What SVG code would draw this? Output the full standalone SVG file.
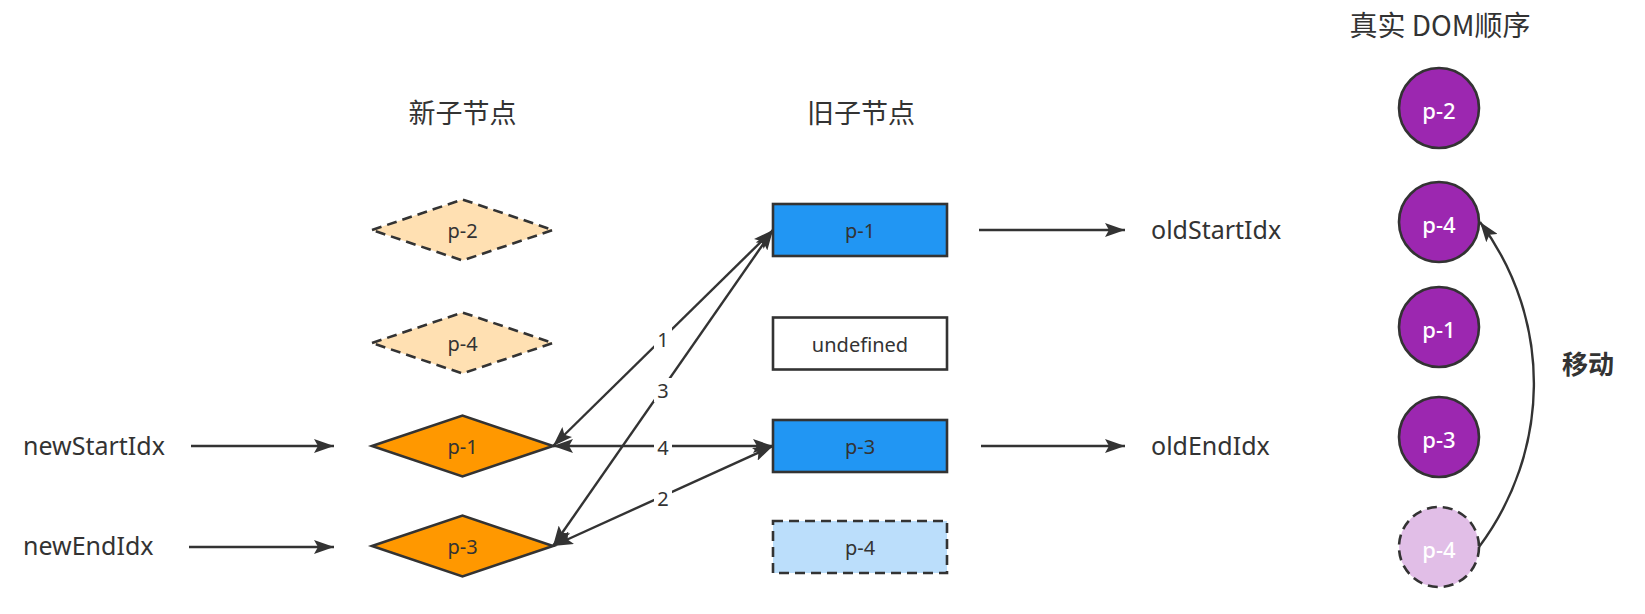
<svg xmlns="http://www.w3.org/2000/svg" width="1645" height="614" viewBox="0 0 1645 614">
<style>
text{font-family:"Noto Sans","Noto Sans CJK SC",sans-serif;fill:#333333}
.title{font-family:"Noto Sans CJK SC","Noto Sans",sans-serif;font-size:27px;text-anchor:middle}
.idx{font-size:25px}
.nl{font-size:20px;text-anchor:middle}
.cl{font-size:22px;text-anchor:middle;fill:#ffffff;font-weight:500}
.el{font-size:20px;text-anchor:middle}
.sh{stroke:#333333;stroke-width:2.6}
.dash{stroke-dasharray:10 6}
.edge{fill:none;stroke:#333333;stroke-width:2.4}
</style>
<defs>
<marker id="arr" viewBox="0 0 20 14" refX="20" refY="7" markerWidth="20" markerHeight="14" markerUnits="userSpaceOnUse" orient="auto-start-reverse">
<path d="M0,0 L20,7 L0,14 L4,7 z" fill="#333333"/>
</marker>
</defs>
<rect width="1645" height="614" fill="#ffffff"/>

<g id="titles">
<text class="title" x="462.5" y="123">新子节点</text>
<text class="title" x="861" y="123">旧子节点</text>
<text class="title" x="1440" y="36" style="font-size:28px">真实 DOM顺序</text>
</g>

<g id="labels">
<text class="idx" x="23" y="455">newStartIdx</text>
<text class="idx" x="23" y="555">newEndIdx</text>
<text class="idx" x="1151" y="239">oldStartIdx</text>
<text class="idx" x="1151" y="455">oldEndIdx</text>
<text x="1588" y="374" style="font-family:'Noto Sans CJK SC',sans-serif;font-size:26px;font-weight:bold;text-anchor:middle">移动</text>
</g>

<g id="new-p2">
<polygon class="sh dash" fill="#FFE0B2" points="372,230 462.5,199.5 553,230 462.5,260.5"/>
<text class="nl" x="462.5" y="237.5">p-2</text>
</g>
<g id="new-p4">
<polygon class="sh dash" fill="#FFE0B2" points="372,343 462.5,312.5 553,343 462.5,373.5"/>
<text class="nl" x="462.5" y="350.5">p-4</text>
</g>
<g id="new-p1">
<polygon class="sh" fill="#FF9800" points="372,446 462.5,415.5 553,446 462.5,476.5"/>
<text class="nl" x="462.5" y="453.5">p-1</text>
</g>
<g id="new-p3">
<polygon class="sh" fill="#FF9800" points="372,546 462.5,515.5 553,546 462.5,576.5"/>
<text class="nl" x="462.5" y="553.5">p-3</text>
</g>

<g id="old-p1">
<rect class="sh" fill="#2196F3" x="773" y="204" width="174" height="52"/>
<text class="nl" x="860" y="238">p-1</text>
</g>
<g id="old-undefined">
<rect class="sh" fill="#ffffff" x="773" y="317.5" width="174" height="52"/>
<text class="nl" x="860" y="351.5">undefined</text>
</g>
<g id="old-p3">
<rect class="sh" fill="#2196F3" x="773" y="420" width="174" height="52"/>
<text class="nl" x="860" y="454">p-3</text>
</g>
<g id="old-p4">
<rect class="sh dash" fill="#BBDEFB" x="773" y="521" width="174" height="52"/>
<text class="nl" x="860" y="555">p-4</text>
</g>

<g id="dom-p2">
<circle class="sh" fill="#9C27B0" cx="1439" cy="108" r="40"/>
<text class="cl" x="1439" y="119">p-2</text>
</g>
<g id="dom-p4">
<circle class="sh" fill="#9C27B0" cx="1439" cy="222" r="40"/>
<text class="cl" x="1439" y="233">p-4</text>
</g>
<g id="dom-p1">
<circle class="sh" fill="#9C27B0" cx="1439" cy="327" r="40"/>
<text class="cl" x="1439" y="338">p-1</text>
</g>
<g id="dom-p3">
<circle class="sh" fill="#9C27B0" cx="1439" cy="437" r="40"/>
<text class="cl" x="1439" y="448">p-3</text>
</g>
<g id="dom-p4-old">
<circle class="sh dash" fill="#E1BEE7" cx="1439" cy="547" r="40"/>
<text class="cl" x="1439" y="558">p-4</text>
</g>

<g id="connectors">
<path class="edge" d="M191,446 L334,446" marker-end="url(#arr)"/>
<path class="edge" d="M189,547 L334,547" marker-end="url(#arr)"/>
<path class="edge" d="M979,230 L1125,230" marker-end="url(#arr)"/>
<path class="edge" d="M981,446 L1125,446" marker-end="url(#arr)"/>
<path class="edge" d="M773,230 L553,446" marker-start="url(#arr)" marker-end="url(#arr)"/>
<path class="edge" d="M773,230 L553,546" marker-start="url(#arr)" marker-end="url(#arr)"/>
<path class="edge" d="M553,446 L773,446" marker-start="url(#arr)" marker-end="url(#arr)"/>
<path class="edge" d="M553,546 L773,446" marker-start="url(#arr)" marker-end="url(#arr)"/>
<path class="edge" d="M1479,547 C1550,452 1554,322 1480,222" marker-end="url(#arr)"/>
<rect x="654" y="327" width="18" height="24" fill="#ffffff"/>
<text class="el" x="663" y="347">1</text>
<rect x="654" y="378" width="18" height="24" fill="#ffffff"/>
<text class="el" x="663" y="398">3</text>
<rect x="654" y="436" width="18" height="24" fill="#ffffff"/>
<text class="el" x="663" y="455">4</text>
<rect x="654" y="486" width="18" height="24" fill="#ffffff"/>
<text class="el" x="663" y="506">2</text>
</g>
</svg>
